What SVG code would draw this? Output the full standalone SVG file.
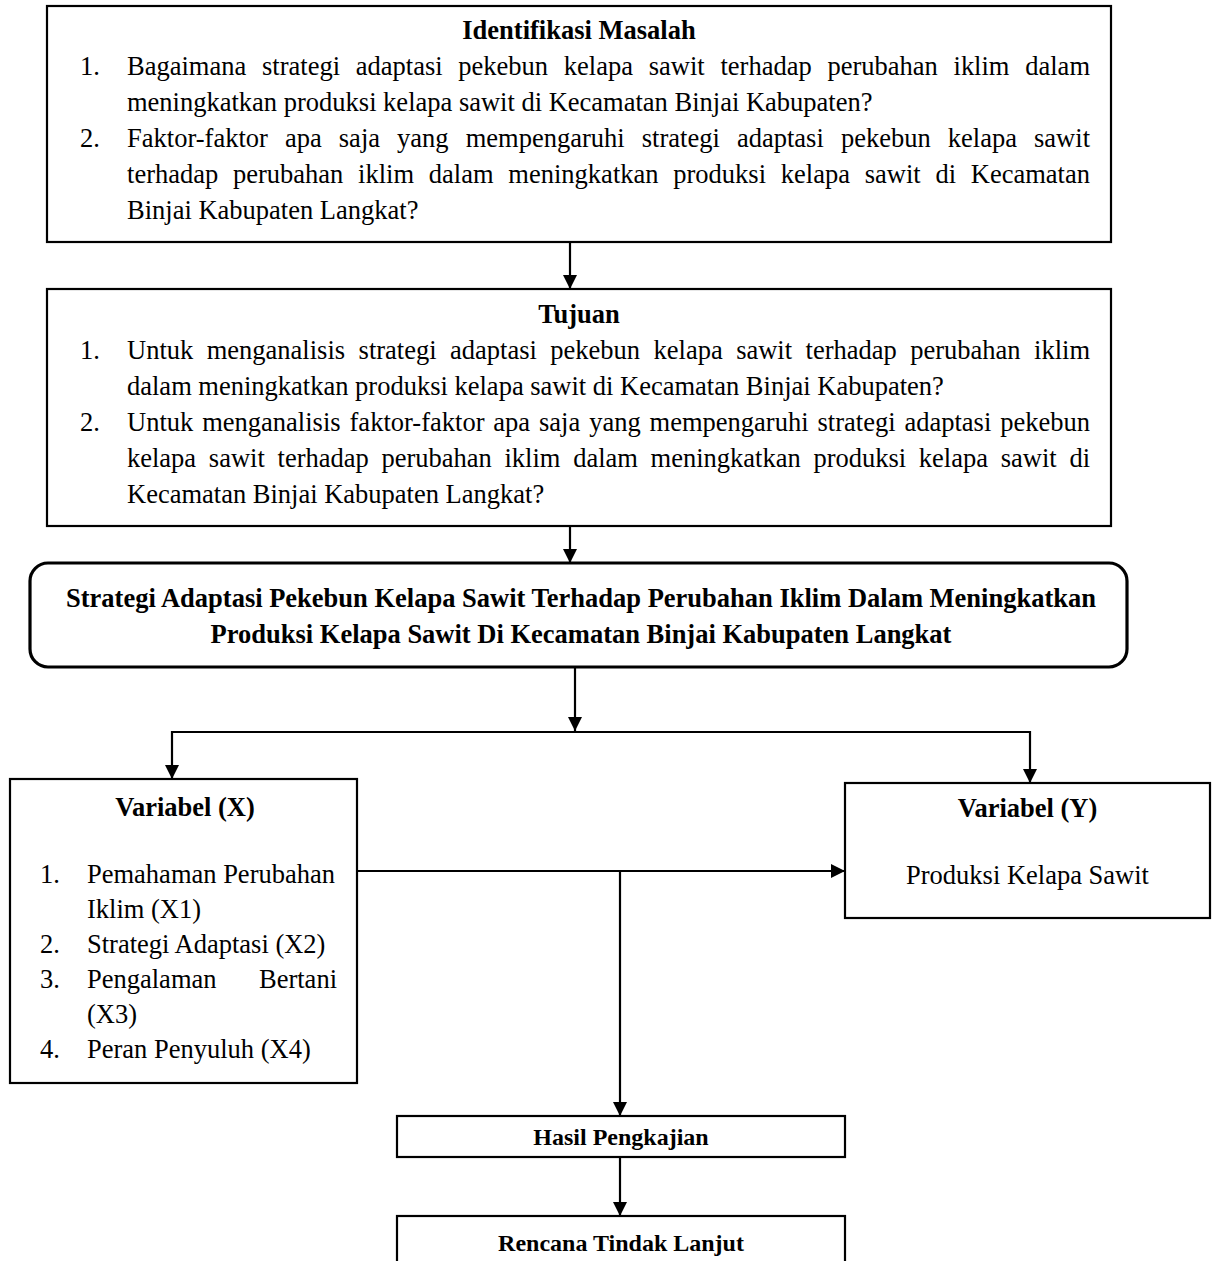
<svg xmlns="http://www.w3.org/2000/svg" width="1214" height="1261" viewBox="0 0 1214 1261">
<style>
  text { font-family: "Liberation Serif", "Times New Roman", serif; fill: #000; }
  .r { font-size: 26.5px; }
  .b { font-size: 26.5px; font-weight: bold; }
  .bs { font-size: 24px; font-weight: bold; }
  .c { text-anchor: middle; }
  .box { fill: #fff; stroke: #000; stroke-width: 2.2; }
  .rbox { fill: #fff; stroke: #000; stroke-width: 3.2; }
  .ln { fill: none; stroke: #000; stroke-width: 2.2; }
</style>
<defs>
  <marker id="ah" markerUnits="userSpaceOnUse" markerWidth="14" markerHeight="14" refX="14" refY="7" orient="auto">
    <path d="M0,0 L14,7 L0,14 z" fill="#000"/>
  </marker>
</defs>
<rect width="1214" height="1261" fill="#fff"/>

<g id="connectors">
  <path class="ln" d="M570,242 V289" marker-end="url(#ah)"/>
  <path class="ln" d="M570,526 V563" marker-end="url(#ah)"/>
  <path class="ln" d="M575,667 V731" marker-end="url(#ah)"/>
  <path class="ln" d="M171,732 H1031"/>
  <path class="ln" d="M172,731 V779" marker-end="url(#ah)"/>
  <path class="ln" d="M1030,731 V783" marker-end="url(#ah)"/>
  <path class="ln" d="M357,871 H845" marker-end="url(#ah)"/>
  <path class="ln" d="M620,871 V1116" marker-end="url(#ah)"/>
  <path class="ln" d="M620,1157 V1216" marker-end="url(#ah)"/>
</g>

<g id="identifikasi">
  <rect class="box" x="47" y="6" width="1064" height="236"/>
  <text class="b c" x="579" y="39">Identifikasi Masalah</text>
  <text class="r" x="80" y="75">1.</text>
  <text class="r" x="127" y="75" style="word-spacing:9.1px" textLength="963" lengthAdjust="spacing">Bagaimana strategi adaptasi pekebun kelapa sawit terhadap perubahan iklim dalam</text>
  <text class="r" x="127" y="111">meningkatkan produksi kelapa sawit di Kecamatan Binjai Kabupaten?</text>
  <text class="r" x="80" y="147">2.</text>
  <text class="r" x="127" y="147" style="word-spacing:10.4px" textLength="963" lengthAdjust="spacing">Faktor-faktor apa saja yang mempengaruhi strategi adaptasi pekebun kelapa sawit</text>
  <text class="r" x="127" y="183" style="word-spacing:8.1px" textLength="963" lengthAdjust="spacing">terhadap perubahan iklim dalam meningkatkan produksi kelapa sawit di Kecamatan</text>
  <text class="r" x="127" y="219">Binjai Kabupaten Langkat?</text>
</g>

<g id="tujuan">
  <rect class="box" x="47" y="289" width="1064" height="237"/>
  <text class="b c" x="579" y="323">Tujuan</text>
  <text class="r" x="80" y="359">1.</text>
  <text class="r" x="127" y="359" style="word-spacing:6.8px" textLength="963" lengthAdjust="spacing">Untuk menganalisis strategi adaptasi pekebun kelapa sawit terhadap perubahan iklim</text>
  <text class="r" x="127" y="395">dalam meningkatkan produksi kelapa sawit di Kecamatan Binjai Kabupaten?</text>
  <text class="r" x="80" y="431">2.</text>
  <text class="r" x="127" y="431" style="word-spacing:2.25px" textLength="963" lengthAdjust="spacing">Untuk menganalisis faktor-faktor apa saja yang mempengaruhi strategi adaptasi pekebun</text>
  <text class="r" x="127" y="467" style="word-spacing:6.1px" textLength="963" lengthAdjust="spacing">kelapa sawit terhadap perubahan iklim dalam meningkatkan produksi kelapa sawit di</text>
  <text class="r" x="127" y="503">Kecamatan Binjai Kabupaten Langkat?</text>
</g>

<g id="judul">
  <rect class="rbox" x="30" y="563" width="1097" height="104" rx="18" ry="18"/>
  <text class="b c" x="581" y="607">Strategi Adaptasi Pekebun Kelapa Sawit Terhadap Perubahan Iklim Dalam Meningkatkan</text>
  <text class="b c" x="581" y="643">Produksi Kelapa Sawit Di Kecamatan Binjai Kabupaten Langkat</text>
</g>

<g id="variabel-x">
  <rect class="box" x="10" y="779" width="347" height="304"/>
  <text class="b c" x="185" y="816">Variabel (X)</text>
  <text class="r" x="40" y="883">1.</text>
  <text class="r" x="87" y="883">Pemahaman Perubahan</text>
  <text class="r" x="87" y="918">Iklim (X1)</text>
  <text class="r" x="40" y="953">2.</text>
  <text class="r" x="87" y="953">Strategi Adaptasi (X2)</text>
  <text class="r" x="40" y="988">3.</text>
  <text class="r" x="87" y="988">Pengalaman</text>
  <text class="r" x="337" y="988" text-anchor="end">Bertani</text>
  <text class="r" x="87" y="1023">(X3)</text>
  <text class="r" x="40" y="1058">4.</text>
  <text class="r" x="87" y="1058">Peran Penyuluh (X4)</text>
</g>

<g id="variabel-y">
  <rect class="box" x="845" y="783" width="365" height="135"/>
  <text class="b c" x="1027.5" y="817">Variabel (Y)</text>
  <text class="r c" x="1027.5" y="884">Produksi Kelapa Sawit</text>
</g>

<g id="hasil">
  <rect class="box" x="397" y="1116" width="448" height="41"/>
  <text class="bs c" x="621" y="1145">Hasil Pengkajian</text>
</g>

<g id="rencana">
  <rect class="box" x="397" y="1216" width="448" height="60"/>
  <text class="bs c" x="621" y="1251">Rencana Tindak Lanjut</text>
</g>
</svg>
